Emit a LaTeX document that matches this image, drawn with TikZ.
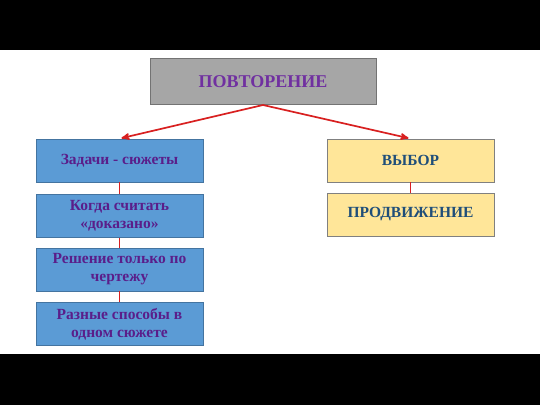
\documentclass[tikz,border=0pt]{standalone}
\usepackage{fontspec}
\setmainfont{Liberation Serif}
\usepackage{tikz}
\usetikzlibrary{arrows}
\usetikzlibrary{positioning}
\definecolor{boxgray}{HTML}{A6A6A6}
\definecolor{boxblue}{HTML}{5B9BD5}
\definecolor{boxyellow}{HTML}{FFE699}
\definecolor{txtpurple}{HTML}{7030A0}
\definecolor{txtviolet}{HTML}{5A1E8A}
\definecolor{txtblue}{HTML}{1F4E79}
\definecolor{lnred}{HTML}{D82020}

\begin{document}
\begin{tikzpicture}[x=1pt,y=-1pt,>=stealth',thick,
    top node/.style={rectangle,draw=gray!90!black,fill=boxgray,line width=1pt,minimum width=226pt,minimum height=46pt,font=\bfseries\fontsize{18}{21}\selectfont,text=txtpurple},
    blue node/.style={rectangle,draw=boxblue!75!black,fill=boxblue,line width=0.8pt,minimum width=167pt,minimum height=43pt,align=center,font=\bfseries\fontsize{15.5}{18}\selectfont,text=txtviolet},
    yellow node/.style={rectangle,draw=gray,fill=boxyellow,line width=0.8pt,minimum width=167pt,minimum height=43pt,align=center,font=\bfseries\fontsize{15.5}{18}\selectfont,text=txtblue}]
   \useasboundingbox (0,0) rectangle (540,405);
   \fill[black] (0,0) rectangle (540,50);
   \fill[black] (0,354) rectangle (540,405);
   \begin{scope}
     \node[top node] (rep) at (263,81.5) {ПОВТОРЕНИЕ};
     % left column
     \node[blue node] (a) at (119.5,160.5) {Задачи - сюжеты};
     \node[blue node] (b) at (119.5,216) {Когда считать\\«доказано»};
     \node[blue node] (c) at (119.5,269.5) {Решение только по\\чертежу};
     \node[blue node] (d) at (119.5,324) {Разные способы в\\одном сюжете};
     % right column
     \node[yellow node] (e) at (410.5,160.5) {ВЫБОР};
     \node[yellow node] (f) at (410.5,214.5) {ПРОДВИЖЕНИЕ};
     \path[->,line width=1.7pt,color=lnred,shorten >=2pt] (rep.south) edge (a.north);
     \path[->,line width=1.7pt,color=lnred,shorten >=2pt] (rep.south) edge (e.north);
     \path[-,line width=1.5pt,color=lnred] (a) edge (b);
     \path[-,line width=1.5pt,color=lnred] (b) edge (c);
     \path[-,line width=1.5pt,color=lnred] (c) edge (d);
     \path[-,line width=1.5pt,color=lnred] (e) edge (f);
   \end{scope}
  \end{tikzpicture}
\end{document}
